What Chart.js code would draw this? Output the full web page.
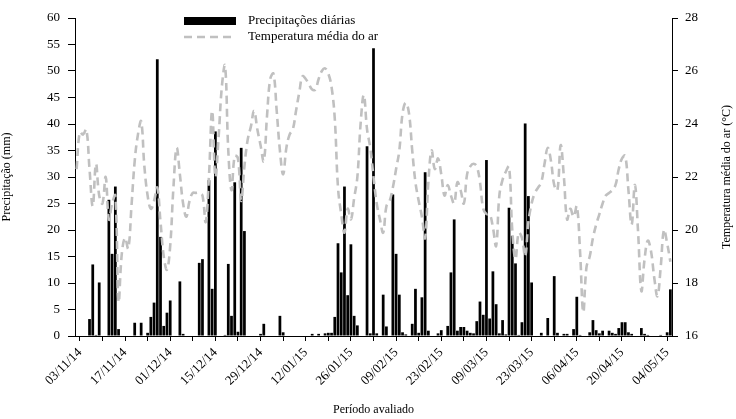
<!DOCTYPE html>
<html>
<head>
<meta charset="utf-8">
<script src="https://cdn.jsdelivr.net/npm/chart.js@4.4.1/dist/chart.umd.min.js"></script>
<style>
  html, body { margin: 0; padding: 0; background: #fff; }
  #wrap { width: 736px; height: 419px; }
</style>
</head>
<body>
<div id="wrap"><canvas id="climaChart" width="736" height="419"></canvas></div>
<script>
// dias de 02/11/14 a 05/05/15
var startDay = [2014, 10, 2];
var numDays = 185;

// precipitacao diaria (mm)
var precipitacao = [
    0, 0, 0, 0, 3.2, 13.5, 0.2, 10.1, 0, 0,
    25.7, 15.5, 28.2, 1.3, 0, 0, 0, 0, 2.5, 0,
    2.5, 0, 0.6, 3.6, 6.3, 52.2, 18.7, 1.9, 4.4, 6.7,
    0, 0, 10.3, 0.4, 0, 0, 0, 0, 13.8, 14.5,
    0, 29.4, 8.9, 38.6, 0, 0, 0.2, 13.6, 3.8, 29.0,
    0.8, 35.5, 19.8, 0, 0, 0, 0, 0.4, 2.3, 0,
    0, 0, 0, 3.8, 0.7, 0, 0, 0, 0, 0,
    0, 0, 0, 0.4, 0, 0.4, 0, 0.5, 0.6, 0.6,
    3.6, 17.5, 12.0, 28.2, 7.7, 17.3, 3.8, 2.0, 0, 0,
    35.8, 0.5, 54.3, 0.5, 0, 7.8, 1.8, 0, 26.7, 15.5,
    7.8, 0.7, 0.3, 0, 2.3, 8.9, 0.6, 7.3, 30.9, 1.0,
    0.1, 0, 0.5, 1.1, 0, 1.9, 12.0, 22.0, 1.0, 1.7,
    1.7, 1.0, 0.6, 0.5, 2.8, 6.5, 4.0, 33.2, 3.3, 12.2,
    6.0, 0.5, 3.0, 0.3, 24.2, 18.9, 13.7, 0.2, 2.6, 40.1,
    26.4, 10.1, 0, 0, 0.6, 0, 3.4, 0, 11.3, 0.6,
    0, 0.4, 0.4, 0, 1.3, 7.4, 0.2, 0, 0, 0.7,
    3.0, 1.1, 0.5, 1.0, 0, 1.0, 0.6, 0.4, 1.5, 2.6,
    2.6, 0.7, 0.4, 0, 0, 1.5, 0.4, 0.2, 0, 0.1,
    0, 0.2, 0, 0.7, 8.8
];

// temperatura media do ar (C)
var temperatura = [
    22.3, 23.7, 23.6, 23.8, 22.3, 20.9, 22.5, 21.3, 21.0, 22.0,
    20.4, 21.0, 21.3, 17.3, 19.1, 19.7, 19.3, 20.9, 22.6, 23.6,
    24.1, 22.4, 21.3, 20.8, 21.1, 21.6, 20.3, 19.0, 18.5, 19.4,
    21.6, 23.1, 22.1, 21.0, 20.5, 21.1, 21.4, 21.4, 21.4, 21.3,
    20.3, 22.0, 24.5, 22.0, 23.5, 25.4, 26.2, 23.0, 21.5, 22.8,
    22.7, 21.1, 22.4, 23.4, 23.9, 24.5, 23.8, 23.2, 22.6, 24.3,
    25.7, 25.9, 24.5, 23.0, 22.1, 23.1, 23.6, 23.8, 24.5, 25.2,
    25.8, 25.7, 25.5, 25.3, 25.3, 25.7, 26.0, 26.1, 25.9, 25.4,
    24.2, 21.6, 20.6, 19.9, 20.8, 20.4, 21.2, 22.0, 24.0, 25.1,
    23.8, 23.1, 22.0, 21.0, 20.4, 19.9, 20.9, 21.1, 21.6, 22.3,
    23.0, 24.4, 24.8, 24.4, 23.0, 21.8, 21.1, 20.5, 19.7, 21.8,
    23.0, 22.3, 22.7, 22.1, 21.3, 21.7, 21.3, 21.0, 21.8, 21.5,
    21.0, 22.1, 22.4, 22.5, 22.4, 21.8, 20.8, 20.6, 20.6, 20.1,
    19.4, 21.3, 21.9, 22.2, 22.4, 20.0, 18.9, 19.9, 19.7, 19.0,
    20.3, 21.0, 21.4, 21.6, 21.8, 22.5, 23.1, 22.6, 21.7, 21.5,
    23.2, 22.0, 20.4, 20.8, 20.5, 20.9, 19.2, 16.9, 18.6, 19.0,
    19.7, 20.2, 20.6, 21.0, 21.3, 21.4, 21.5, 21.7, 22.3, 22.7,
    22.8, 21.5, 20.2, 21.7, 19.9, 17.7, 18.9, 19.6, 19.2, 18.2,
    17.5, 18.6, 20.0, 19.5, 18.8
];

var precipTicks = [0, 60, 5];
var tempTicks = [16, 28, 2];
var tituloDireito = 'Temperatura média do ar (°C)';

function pad2(n) { return (n < 10 ? '0' : '') + n; }

var dias = [];
for (var i = 0; i < numDays; i++) {
    var d = new Date(Date.UTC(startDay[0], startDay[1], startDay[2] + i));
    dias.push(pad2(d.getUTCDate()) + '/' + pad2(d.getUTCMonth() + 1) + '/' + String(d.getUTCFullYear()).slice(2));
}

var serif = '"Liberation Serif", "Times New Roman", serif';

// legenda dentro da area do grafico + titulo do eixo direito (lido de baixo para cima)
var legendaPlugin = {
    id: 'legenda',
    afterDraw: function (chart) {
        var ctx = chart.ctx;
        var ds = chart.data.datasets;
        var area = chart.chartArea;
        ctx.save();
        ctx.fillStyle = '#000';
        ctx.fillRect(184, 17, 52, 8);
        ctx.strokeStyle = '#c0c0c0';
        ctx.lineWidth = 2.5;
        ctx.setLineDash([8, 5]);
        ctx.beginPath();
        ctx.moveTo(184, 37);
        ctx.lineTo(234, 37);
        ctx.stroke();
        ctx.setLineDash([]);
        ctx.fillStyle = '#000';
        ctx.font = '13px ' + serif;
        ctx.textBaseline = 'middle';
        ctx.fillText(ds[0].label, 248, 21);
        ctx.fillText(ds[1].label, 248, 37);

        ctx.font = '12px ' + serif;
        ctx.textAlign = 'center';
        ctx.translate(727, (area.top + area.bottom) / 2);
        ctx.rotate(-Math.PI / 2);
        ctx.fillText(tituloDireito, 0, 0);
        ctx.restore();
    }
};

var tickColor = function (c) {
    return (c.index - 1) % 7 === 0 ? '#000' : 'rgba(0,0,0,0)';
};

var ctx = document.getElementById('climaChart').getContext('2d');
new Chart(ctx, {
    type: 'bar',
    data: {
        labels: dias,
        datasets: [
            {
                label: 'Precipitações diárias',
                data: precipitacao,
                backgroundColor: '#000',
                barPercentage: 0.85,
                categoryPercentage: 1.0,
                yAxisID: 'y',
                order: 2
            },
            {
                type: 'line',
                label: 'Temperatura média do ar',
                data: temperatura,
                borderColor: '#c0c0c0',
                borderWidth: 2.6,
                borderDash: [8, 5],
                pointRadius: 0,
                tension: 0.4,
                fill: false,
                yAxisID: 'y1',
                order: 1
            }
        ]
    },
    options: {
        responsive: false,
        animation: false,
        layout: { padding: { top: 18, left: 0, right: 0, bottom: 0 } },
        plugins: {
            legend: { display: false },
            tooltip: { enabled: false }
        },
        scales: {
            x: {
                offset: true,
                afterFit: function (s) { s.height = 83; },
                grid: {
                    drawOnChartArea: false,
                    drawTicks: true,
                    tickLength: 5,
                    offset: false,
                    color: tickColor
                },
                border: { display: true, color: '#000', width: 1 },
                ticks: {
                    autoSkip: false,
                    maxRotation: 45,
                    minRotation: 45,
                    padding: 4,
                    color: '#000',
                    font: { family: serif, size: 13 },
                    callback: function (v, idx) {
                        return (idx - 1) % 14 === 0 ? dias[idx] : '';
                    }
                },
                title: {
                    display: true,
                    text: 'Período avaliado',
                    color: '#000',
                    font: { family: serif, size: 12 },
                    padding: { top: 0, bottom: 2 }
                }
            },
            y: {
                position: 'left',
                min: precipTicks[0],
                max: precipTicks[1],
                afterFit: function (s) { s.width = 75; },
                grid: { drawOnChartArea: false, tickLength: 7, color: '#000' },
                border: { display: true, color: '#000', width: 1 },
                ticks: {
                    stepSize: precipTicks[2],
                    padding: 8,
                    color: '#000',
                    font: { family: serif, size: 13 }
                },
                title: {
                    display: true,
                    text: 'Precipitação (mm)',
                    color: '#000',
                    font: { family: serif, size: 12 },
                    padding: { top: 0, bottom: 4 }
                }
            },
            y1: {
                position: 'right',
                min: tempTicks[0],
                max: tempTicks[1],
                afterFit: function (s) { s.width = 64; },
                grid: { drawOnChartArea: false, tickLength: 6, color: '#000' },
                border: { display: true, color: '#000', width: 1 },
                ticks: {
                    stepSize: tempTicks[2],
                    padding: 7,
                    color: '#000',
                    font: { family: serif, size: 13 }
                },
                title: { display: false }
            }
        }
    },
    plugins: [legendaPlugin]
});
</script>
</body>
</html>
